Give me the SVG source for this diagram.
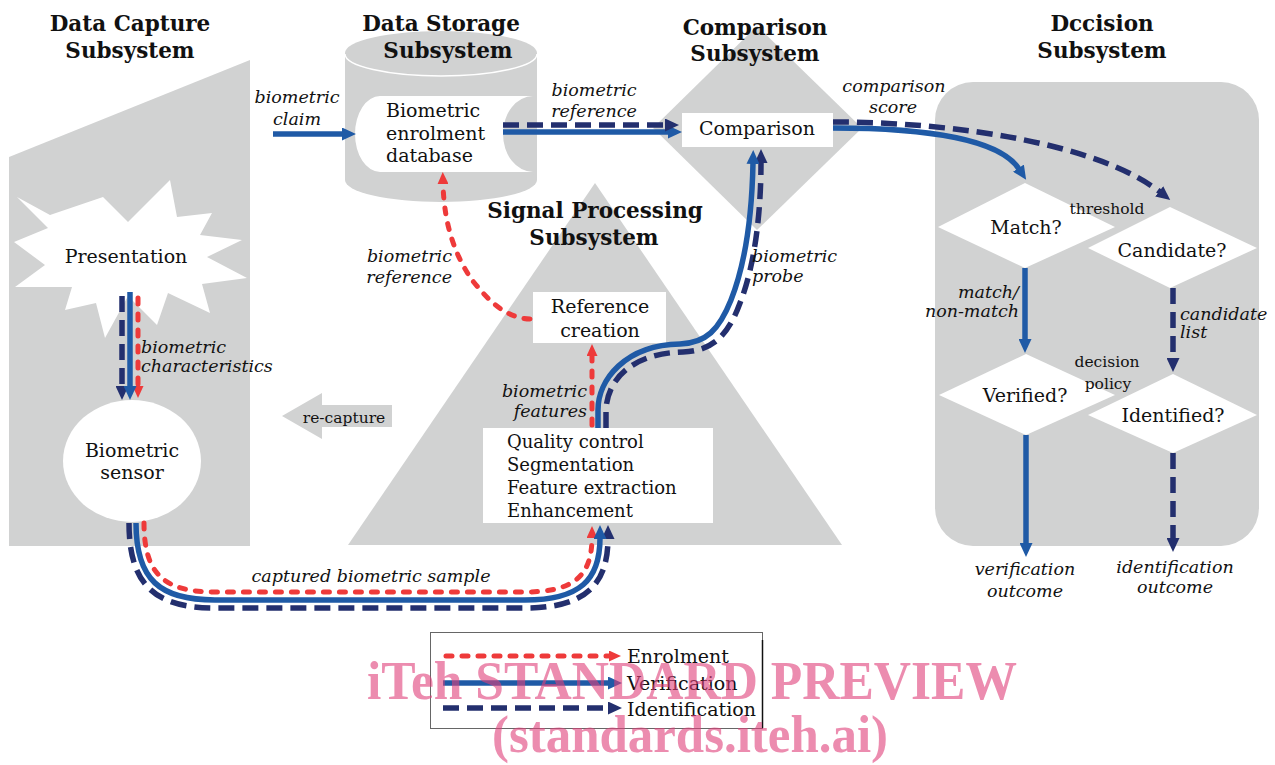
<svg xmlns="http://www.w3.org/2000/svg" width="1275" height="765" viewBox="0 0 1275 765">
  <style>
    .bg { fill: #d1d2d2; }
    .box { fill: #ffffff; }
    text { font-family: "DejaVu Serif", serif; fill: #111111; }
    .title { font-weight: bold; font-size: 21.5px; text-anchor: middle; }
    .node { font-size: 19px; text-anchor: middle; }
    .small { font-size: 15.5px; text-anchor: middle; }
    .lbl { font-style: italic; font-size: 17.5px; }
    .mid { text-anchor: middle; }
    .end { text-anchor: end; }
    .enrol { fill: none; stroke: #ee3a3a; stroke-width: 5; stroke-dasharray: 6 10; stroke-linecap: round; }
    .verif { fill: none; stroke: #1f5aa6; stroke-width: 5.5; }
    .ident { fill: none; stroke: #232f6e; stroke-width: 5.5; stroke-dasharray: 16 8; }
    .wm { font-family: "Liberation Serif", serif; font-weight: bold; fill: #e0407a; fill-opacity: 0.6; }
  </style>
  <defs>
    <marker id="headRed" viewBox="0 0 12 11" markerWidth="12" markerHeight="11" refX="1" refY="5.5" orient="auto" markerUnits="userSpaceOnUse">
      <path d="M0,0 L12,5.5 L0,11 z" fill="#ee3a3a"/>
    </marker>
    <marker id="headBlue" viewBox="0 0 14 13" markerWidth="14" markerHeight="13" refX="1" refY="6.5" orient="auto" markerUnits="userSpaceOnUse">
      <path d="M0,0 L14,6.5 L0,13 z" fill="#1f5aa6"/>
    </marker>
    <marker id="headNavy" viewBox="0 0 14 13" markerWidth="14" markerHeight="13" refX="1" refY="6.5" orient="auto" markerUnits="userSpaceOnUse">
      <path d="M0,0 L14,6.5 L0,13 z" fill="#232f6e"/>
    </marker>
  </defs>

  <!-- Data capture subsystem -->
  <g id="data-capture">
    <polygon class="bg" points="9,157 250,60 250,546 9,546"/>
    <text class="title" x="130" y="31">Data Capture</text>
    <text class="title" x="130" y="58">Subsystem</text>
  </g>
  <g id="presentation">
    <polygon class="box" points="17,197 50,215 103,197 128,222 170,180 177,217 212,213 200,235 242,240 207,257 247,278 202,284 210,313 168,293 157,325 128,296 105,338 96,303 65,310 72,287 15,287 45,265 14,242 48,228"/>
    <text class="node" x="126" y="263">Presentation</text>
  </g>
  <g id="biometric-sensor">
    <ellipse class="box" cx="132" cy="461" rx="69" ry="61"/>
    <text class="node" x="132" y="457">Biometric</text>
    <text class="node" x="132" y="479">sensor</text>
  </g>
  <g id="re-capture">
    <polygon class="bg" points="282,416 322,393 322,405 392,405 392,427 322,427 322,439"/>
    <text class="small" x="344" y="423">re-capture</text>
  </g>

  <!-- Data storage subsystem -->
  <g id="data-storage">
    <rect class="bg" x="345" y="53" width="192" height="127"/>
    <ellipse class="bg" cx="441" cy="180" rx="96" ry="22"/>
    <ellipse class="bg" cx="441" cy="53" rx="96" ry="22"/>
    <path d="M345,54 A96,22 0 0 0 537,54" fill="none" stroke="#ffffff" stroke-width="1.5"/>
    <path class="box" d="M380,96 H533 A30,38 0 0 0 533,172 H380 A25,38 0 0 1 380,96 Z"/>
    <text class="title" x="441" y="31">Data Storage</text>
    <text class="title" x="448" y="58">Subsystem</text>
    <text class="node" x="386" y="117" style="text-anchor:start">Biometric</text>
    <text class="node" x="386" y="140" style="text-anchor:start">enrolment</text>
    <text class="node" x="386" y="162" style="text-anchor:start">database</text>
  </g>

  <!-- Comparison subsystem -->
  <g id="comparison">
    <polygon class="bg" points="757,26 862,128 757,230 653,128"/>
    <rect class="box" x="682" y="113" width="151" height="34"/>
    <text class="title" x="755" y="35">Comparison</text>
    <text class="title" x="755" y="61">Subsystem</text>
    <text class="node" x="757" y="135">Comparison</text>
  </g>

  <!-- Signal processing subsystem -->
  <g id="signal-processing">
    <polygon class="bg" points="595,183 842,545 348,545"/>
    <text class="title" x="595" y="218">Signal Processing</text>
    <text class="title" x="594" y="245">Subsystem</text>
  </g>
  <g id="reference-creation">
    <rect class="box" x="533" y="292" width="133" height="51"/>
    <text class="node" x="600" y="313">Reference</text>
    <text class="node" x="600" y="337">creation</text>
  </g>
  <g id="processing-steps">
    <rect class="box" x="483" y="428" width="230" height="95"/>
    <text x="507" y="448" font-size="18">Quality control</text>
    <text x="507" y="471" font-size="18">Segmentation</text>
    <text x="507" y="494" font-size="18">Feature extraction</text>
    <text x="507" y="517" font-size="18">Enhancement</text>
  </g>

  <!-- Decision subsystem -->
  <g id="decision">
    <rect class="bg" x="935" y="82" width="324" height="464" rx="38" ry="38"/>
    <text class="title" x="1102" y="31">Dccision</text>
    <text class="title" x="1102" y="58">Subsystem</text>
  </g>
  <g id="match">
    <polygon class="box" points="1025,183 1115,227 1025,268 938,227"/>
    <text class="node" x="1026" y="234">Match?</text>
  </g>
  <g id="candidate">
    <polygon class="box" points="1170,207 1257,248 1170,288 1088,248"/>
    <text class="node" x="1172" y="257">Candidate?</text>
  </g>
  <g id="verified">
    <polygon class="box" points="1026,354 1115,395 1026,435 939,395"/>
    <text class="node" x="1025" y="402">Verified?</text>
  </g>
  <g id="identified">
    <polygon class="box" points="1173,374 1257,415 1173,453 1088,415"/>
    <text class="node" x="1173" y="422">Identified?</text>
  </g>
  <g id="decision-notes">
    <text class="small" x="1107" y="214">threshold</text>
    <text class="small" x="1107" y="367">decision</text>
    <text class="small" x="1108" y="389">policy</text>
  </g>

  <!-- Connectors -->
  <g id="connectors">
    <!-- biometric claim -->
    <path class="verif" d="M273,134 H343" marker-end="url(#headBlue)"/>
    <!-- database to comparison -->
    <path class="verif" d="M503,132 H669" marker-end="url(#headBlue)"/>
    <path class="ident" d="M503,125 H666" marker-end="url(#headNavy)"/>
    <!-- comparison score -->
    <path class="verif" d="M833,128 C930,128 1000,140 1019,169" marker-end="url(#headBlue)"/>
    <path class="ident" d="M833,122 C960,122 1100,145 1160,192" marker-end="url(#headNavy)"/>
    <!-- decision flow -->
    <path class="verif" d="M1025,268 V340" marker-end="url(#headBlue)"/>
    <path class="verif" d="M1026,435 V544" marker-end="url(#headBlue)"/>
    <path class="ident" d="M1173,288 V359" marker-end="url(#headNavy)"/>
    <path class="ident" d="M1173,453 V539" marker-end="url(#headNavy)"/>
    <!-- presentation to sensor -->
    <path class="ident" d="M122,296 V387" marker-end="url(#headNavy)"/>
    <path class="enrol" d="M138,298 V387" marker-end="url(#headRed)"/>
    <path class="verif" d="M130,292 V387" marker-end="url(#headBlue)" stroke-width="5"/>
    <!-- captured biometric sample -->
    <path class="ident" d="M129,523 C129,585 155,608 215,608 L525,608 C585,608 608,585 608,538" marker-end="url(#headNavy)"/>
    <path class="enrol" d="M144,523 C144,575 165,592 215,592 L525,592 C575,592 592,575 592,537" marker-end="url(#headRed)"/>
    <path class="verif" d="M136,523 C136,580 160,600 215,600 L525,600 C580,600 600,580 600,538" marker-end="url(#headBlue)"/>
    <!-- biometric probe -->
    <path class="ident" d="M606,428 V412 C606,380 632,353 683,352 C712,351 728,336 740,303 C755,265 761,212 761,162" marker-end="url(#headNavy)"/>
    <path class="verif" d="M598,428 V410 C598,380 625,345 680,344 C706,343 719,330 731,300 C746,262 752,212 753,163" marker-end="url(#headBlue)"/>
    <!-- biometric features -->
    <path class="enrol" d="M592,425 V355" marker-end="url(#headRed)"/>
    <!-- enrolment reference to database -->
    <path class="enrol" d="M530,319 C505,318 488,300 472,280 C455,255 444,225 443,183" marker-end="url(#headRed)"/>
  </g>

  <!-- Connector labels -->
  <g id="labels">
    <text class="lbl mid" x="297" y="103">biometric</text>
    <text class="lbl mid" x="297" y="125">claim</text>
    <text class="lbl mid" x="594" y="96">biometric</text>
    <text class="lbl mid" x="594" y="117">reference</text>
    <text class="lbl mid" x="894" y="92">comparison</text>
    <text class="lbl mid" x="893" y="113">score</text>
    <text class="lbl" x="141" y="353">biometric</text>
    <text class="lbl" x="141" y="372">characteristics</text>
    <text class="lbl end" x="452" y="262">biometric</text>
    <text class="lbl end" x="452" y="283">reference</text>
    <text class="lbl" x="752" y="262">biometric</text>
    <text class="lbl" x="752" y="282">probe</text>
    <text class="lbl end" x="587" y="397">biometric</text>
    <text class="lbl end" x="587" y="417">features</text>
    <text class="lbl mid" x="371" y="582">captured biometric sample</text>
    <text class="lbl end" x="1019" y="298">match/</text>
    <text class="lbl end" x="1019" y="317">non-match</text>
    <text class="lbl" x="1180" y="320">candidate</text>
    <text class="lbl" x="1180" y="338">list</text>
    <text class="lbl mid" x="1025" y="575">verification</text>
    <text class="lbl mid" x="1025" y="597">outcome</text>
    <text class="lbl mid" x="1175" y="573">identification</text>
    <text class="lbl mid" x="1175" y="593">outcome</text>
  </g>

  <!-- Legend -->
  <g id="legend">
    <rect x="430.5" y="632.5" width="332" height="96" fill="#ffffff" stroke="#666666" stroke-width="1"/>
    <line x1="762.5" y1="640" x2="762.5" y2="728" stroke="#111111" stroke-width="1.5"/>
    <path class="enrol" d="M446,656 H610" marker-end="url(#headRed)"/>
    <path class="verif" d="M443,683 H609" marker-end="url(#headBlue)"/>
    <path class="ident" d="M443,708 H609" marker-end="url(#headNavy)"/>
    <text x="627" y="663" font-size="19">Enrolment</text>
    <text x="627" y="690" font-size="19">Verification</text>
    <text x="627" y="716" font-size="19">Identification</text>
  </g>

  <!-- Watermark -->
  <g id="watermark">
    <text class="wm" x="367" y="699" font-size="54" textLength="650" lengthAdjust="spacingAndGlyphs">iTeh STANDARD PREVIEW</text>
    <text class="wm" x="492" y="752" font-size="52" textLength="396" lengthAdjust="spacingAndGlyphs">(standards.iteh.ai)</text>
  </g>
</svg>
